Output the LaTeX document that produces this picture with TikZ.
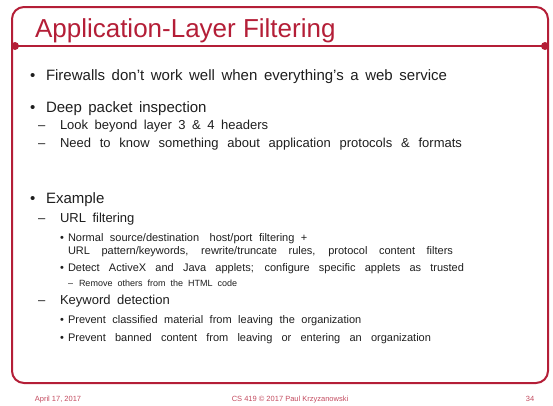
\documentclass[tikz,border=0pt]{standalone}
\usepackage{fontspec}
\setmainfont{Liberation Sans}
\definecolor{slred}{RGB}{180,30,55}
\definecolor{txt}{RGB}{30,30,30}
\begin{document}
\begin{tikzpicture}[x=1pt,y=-1pt,
  every node/.style={inner sep=0pt,outer sep=0pt,anchor=base west,text=txt},
  lone/.style={font=\fontsize{15}{17}\selectfont,execute at begin node={\spaceskip=6.5pt plus 8pt\relax}},
  ltwo/.style={font=\fontsize{13}{15}\selectfont,execute at begin node={\spaceskip=6.5pt plus 8pt\relax}},
  lthree/.style={font=\fontsize{11}{13}\selectfont,execute at begin node={\spaceskip=6.5pt plus 8pt\relax}},
  lfour/.style={font=\fontsize{9}{11}\selectfont,execute at begin node={\spaceskip=5pt plus 6pt\relax}},
  foot/.style={font=\fontsize{7.5}{9}\selectfont,text=slred!80!white,anchor=base}]
\useasboundingbox (0,0) rectangle (553,405);
\draw[slred,line width=2pt,rounded corners=12pt] (12,7) rectangle (548,383);
\coordinate (tl) at (15,46);
\coordinate (tr) at (545,46);
\draw[slred,line width=2.8pt] (tl) -- (tr);
\fill[slred] (tl) circle (4pt) (tr) circle (4pt);
\node[font=\fontsize{26}{29}\selectfont,text=slred] (title) at (35,37) {Application-Layer Filtering};
% level 1
\node[lone] (b1) at (30,80) {•};
\node[lone] (t1) at (46,80) {\makebox[401pt][s]{Firewalls don’t work well when everything’s a web service}};
\node[lone] (b2) at (30,112) {•};
\node[lone] (t2) at (46,112) {Deep packet inspection};
\node[ltwo] (d1) at (38,129) {–};
\node[ltwo] (t3) at (60,129) {Look beyond layer 3 \& 4 headers};
\node[ltwo] (d2) at (38,147) {–};
\node[ltwo] (t4) at (60,147) {\makebox[402pt][s]{Need to know something about application protocols \& formats}};
\node[lone] (b3) at (30,203) {•};
\node[lone] (t5) at (46,203) {Example};
\node[ltwo] (d3) at (38,222) {–};
\node[ltwo] (t6) at (60,222) {URL filtering};
\node[lthree] (b4) at (60,241) {•};
\node[lthree] (t7) at (68,241) {Normal source/destination\hspace{4pt} host/port filtering +};
\node[lthree] (t8) at (68,254) {\makebox[385pt][s]{URL pattern/keywords, rewrite/truncate rules, protocol content filters}};
\node[lthree] (b5) at (60,271) {•};
\node[lthree] (t9) at (68,271) {\makebox[396pt][s]{Detect ActiveX and Java applets; configure specific applets as trusted}};
\node[lfour] (d4) at (68,286) {–};
\node[lfour] (t10) at (79,286) {Remove others from the HTML code};
\node[ltwo] (d5) at (38,304) {–};
\node[ltwo] (t11) at (60,304) {Keyword detection};
\node[lthree] (b6) at (60,323) {•};
\node[lthree] (t12) at (68,323) {Prevent classified material from leaving the organization};
\node[lthree] (b7) at (60,341) {•};
\node[lthree] (t13) at (68,341) {\makebox[363pt][s]{Prevent banned content from leaving or entering an organization}};
% footer
\node[foot] (f1) at (58,401) {April 17, 2017};
\node[foot] (f2) at (290,401) {CS 419 © 2017 Paul Krzyzanowski};
\node[foot] (f3) at (530,401) {34};
\end{tikzpicture}
\end{document}
